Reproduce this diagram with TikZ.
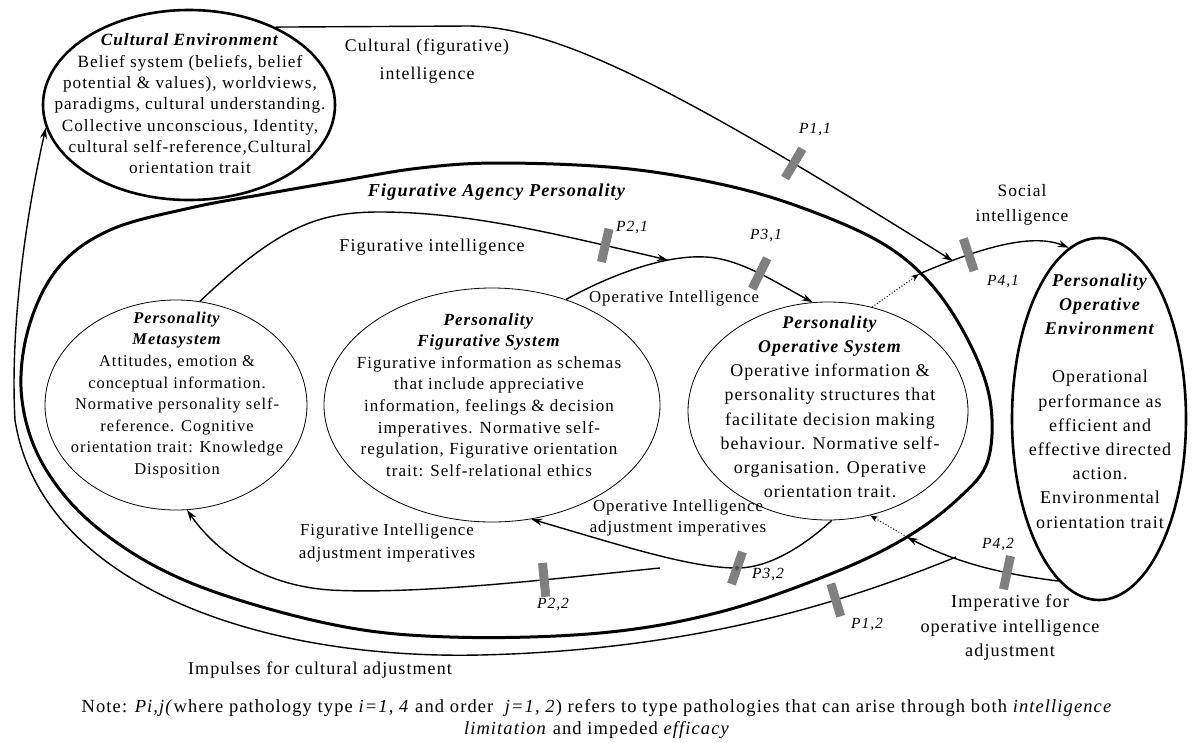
\documentclass[tikz,border=0pt]{standalone}
\usepackage{fontspec}
\setmainfont{Liberation Serif}[LetterSpace=6]
\usetikzlibrary{shapes.geometric,arrows.meta}
\definecolor{barcol}{RGB}{128,128,128}
\tikzset{
  outer/.style={ellipse, draw, line width=2.6pt, inner sep=0pt},
  inner/.style={ellipse, draw, line width=0.8pt, inner sep=0pt},
  body/.style={align=center, inner sep=0pt, font=\fontsize{17.5}{21.5}\selectfont},
  plab/.style={inner sep=0pt, font=\fontsize{15.5}{17}\selectfont\itshape},
  arr/.style={line width=1.4pt, -{Stealth[length=11pt,width=7pt]}},
  dotarr/.style={line width=1pt, dotted, -{Stealth[length=8pt,width=6pt]}},
  bar/.style={rectangle, fill=barcol, minimum width=9pt, minimum height=34pt, inner sep=0pt},
}
\newcommand{\bi}[1]{\textbf{\textit{#1}}}
\newcommand{\fsz}[2]{\fontsize{#1}{#2}\selectfont}
\begin{document}
\begin{tikzpicture}[x=1pt,y=-1pt]
\useasboundingbox (0,0) rectangle (1194,742);

% ---- ellipses ----
\node[outer, minimum width=292pt, minimum height=190pt] (ce) at (189,105) {};
\node[inner, minimum width=262pt, minimum height=210pt] (pm) at (176,405) {};
\node[inner, minimum width=336pt, minimum height=234pt] (pfs) at (492,405) {};
\node[inner, minimum width=280pt, minimum height=218pt] (pos) at (828,411) {};
\node[outer, minimum width=174pt, minimum height=362pt] (poe) at (1099,419) {};

\draw[line width=3pt] plot[smooth cycle, tension=0.6] coordinates {
 (500,163) (620,168) (720,184) (800,207) (880,242) (930,283) (968,340)
 (990,400) (988,460) (960,497) (907,537) (833,573) (720,612) (600,633)
 (450,637) (330,624) (191,583) (100,530) (45,468) (22,400) (28,330)
 (58,268) (110,230) (190,208) (265,194) (340,181) (420,168)};

% ---- texts in ellipses ----
\node[body, font=\fsz{17.2}{21.3}] (ce-t) at (190,104) {\bi{Cultural Environment}\\
Belief system (beliefs, belief\\
potential \& values), worldviews,\\
paradigms, cultural understanding.\\
Collective unconscious, Identity,\\
cultural self-reference,Cultural\\
orientation trait};

\node[body, font=\fsz{16.4}{21.6}] (pm-t) at (177,395) {\bi{Personality}\\ \bi{Metasystem}\\
Attitudes, emotion \&\\
conceptual information.\\
Normative personality self-\\
reference. Cognitive\\
orientation trait: Knowledge\\
Disposition};

\node[body, font=\fsz{17}{21.6}] (pfs-t) at (489,395) {\bi{Personality}\\ \bi{Figurative System}\\
Figurative information as schemas\\
that include appreciative\\
information, feelings \& decision\\
imperatives. Normative self-\\
regulation, Figurative orientation\\
trait: Self-relational ethics};

\node[body, font=\fsz{17.9}{24.2}] (pos-t) at (830,407) {\bi{Personality}\\ \bi{Operative System}\\
Operative information \&\\
personality structures that\\
facilitate decision making\\
behaviour. Normative self-\\
organisation. Operative\\
orientation trait.};

\node[body, font=\fsz{18}{24.2}] (poe-t) at (1100,401) {\bi{Personality}\\ \bi{Operative}\\ \bi{Environment}\\[24pt]
Operational\\
performance as\\
efficient and\\
effective directed\\
action.\\
Environmental\\
orientation trait};

\node[body, font=\fsz{18.2}{21}] (fap-t) at (497,192) {\bi{Figurative Agency Personality}};

% ---- junction coordinates ----
\coordinate (sj) at (919,274);
\coordinate (cj) at (953,261);
\coordinate (fj) at (668,260);
\coordinate (p32) at (737,568);
\coordinate (fa0) at (660,568);
\coordinate (ij) at (907,537);
\coordinate (ib) at (956,557);
\coordinate (cb) at (470,26);

% ---- connectors ----
\draw[arr] (ce.42) -- (cb) .. controls (560,28) and (680,90) .. (cj)
  node[bar, sloped, pos=0.78] (b11) {};
\draw[arr] (sj) .. controls (975,250) and (1030,232) .. (poe.100)
  node[bar, sloped, pos=0.3] (b41) {};
\draw[dotarr] (pos.67) -- (sj);

\draw[arr] (pm.77) .. controls (280,225) and (320,212) .. (380,212)
  .. controls (470,212) and (560,235) .. (fj)
  node[bar, sloped, pos=0.8] (b21) {};
\draw[arr] (pfs.55) .. controls (620,270) and (670,255) .. (705,257)
  .. controls (740,258) and (780,285) .. (pos.98)
  node[bar, sloped, pos=0.5] (b31) {};

\draw[arr] (pos.272) .. controls (805,545) and (770,568) .. (p32)
  .. controls (690,568) and (620,545) .. (pfs.289);
\node[bar, rotate=-19] (b32) at (p32) {};
\node[circle, fill=barcol!60!black, inner sep=0pt, minimum size=4pt] (d32) at (p32) {};

\draw[arr] (fa0) .. controls (560,578) and (420,595) .. (330,590)
  node[bar, sloped, pos=0.35] (b22) {}
  .. controls (260,585) and (215,550) .. (pm.276);

\draw[arr] (poe.256) .. controls (1010,575) and (960,565) .. (ij)
  node[bar, sloped, pos=0.35] (b42) {};
\draw[dotarr] (ij) -- (pos.292);

\draw[arr] (ib) .. controls (850,600) and (700,650) .. (480,655)
  node[bar, sloped, pos=0.33] (b12) {}
  .. controls (250,660) and (40,580) .. (15,420)
  .. controls (10,330) and (25,220) .. (ce.189);

% ---- labels ----
\node[body, font=\fsz{17.8}{28}] (l-cult) at (427,61) {Cultural (figurative)\\intelligence};
\node[body, font=\fsz{17.4}{25}] (l-soc) at (1022,205) {Social\\intelligence};
\node[body, font=\fsz{18}{21}] (l-fig) at (432,247) {Figurative intelligence};
\node[body, font=\fsz{16.8}{21}] (l-op) at (674,298) {Operative Intelligence};
\node[body, font=\fsz{16.8}{20.5}] (l-opadj) at (678,518) {Operative Intelligence\\adjustment imperatives};
\node[body, font=\fsz{16.8}{22.5}] (l-figadj) at (387,543) {Figurative Intelligence\\adjustment imperatives};
\node[body, font=\fsz{18.2}{24.5}] (l-imp) at (1010,628) {Imperative for\\operative intelligence\\adjustment};
\node[body, font=\fsz{18}{21}] (l-cultadj) at (320,670) {Impulses for cultural adjustment};

\node[plab] (p11) at (815,130) {P1,1};
\node[plab] (p21) at (632,228) {P2,1};
\node[plab] (p31) at (766,236) {P3,1};
\node[plab] (p41) at (1003,282) {P4,1};
\node[plab] (p22) at (553,605) {P2,2};
\node[plab] (p32l) at (768,575) {P3,2};
\node[plab] (p12) at (867,625) {P1,2};
\node[plab] (p42) at (998,545) {P4,2};

\node[body, font=\fsz{18.5}{22}] (note) at (597,719) {Note: \textit{Pi,j(}where pathology type \textit{i=1, 4} and order \ \textit{j=1, 2}) refers to type pathologies that can arise through both \textit{intelligence}\\
\textit{limitation} and impeded \textit{efficacy}};
\end{tikzpicture}
\end{document}
